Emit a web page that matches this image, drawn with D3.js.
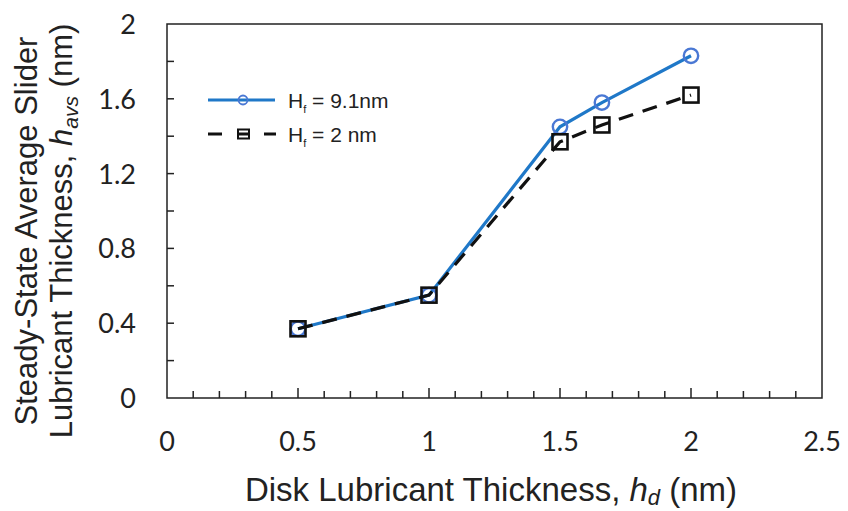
<!DOCTYPE html>
<html>
<head>
<meta charset="utf-8">
<script src="https://cdn.jsdelivr.net/npm/d3@7"></script>
<style>
  body { margin: 0; background: #fff; }
  svg text { fill: #222; }
</style>
</head>
<body>
<svg id="chart" width="848" height="511"></svg>
<script>
// === DATA ===
const diskThickness = [0.5, 1, 1.5, 1.66, 2];
const sliderThick91 = [0.37, 0.55, 1.45, 1.58, 1.83];
const sliderThick2 = [0.37, 0.55, 1.37, 1.46, 1.62];
const xTickLabels = [0, 0.5, 1, 1.5, 2, 2.5];
const yTickLabels = [0, 0.4, 0.8, 1.2, 1.6, 2];

// === LAYOUT ===
const plot = { left: 167, right: 822, top: 24, bottom: 398 };
const svg = d3.select('#chart');

const x = d3.scaleLinear().domain([0, 2.5]).range([plot.left, plot.right]);
const y = d3.scaleLinear().domain([0, 2]).range([plot.bottom, plot.top]);

const tickFont = 'Lato, "Open Sans", sans-serif';
const titleFont = '"Liberation Sans", Arial, sans-serif';

// frame
svg.append('rect')
    .attr('x', plot.left).attr('y', plot.top)
    .attr('width', plot.right - plot.left).attr('height', plot.bottom - plot.top)
    .attr('fill', 'none').attr('stroke', '#222').attr('stroke-width', 1.5);

// inner ticks on x (every 0.1, taller on 0.5)
const xMinor = d3.range(1, 25).map(i => i / 10);
svg.append('g').selectAll('line')
    .data(xMinor)
    .join('line')
    .attr('x1', d => x(d)).attr('x2', d => x(d))
    .attr('y1', plot.bottom)
    .attr('y2', (d, i) => plot.bottom - ((i + 1) % 5 === 0 ? 10 : 7))
    .attr('stroke', '#222').attr('stroke-width', 1.5);

// inner ticks on y (every 0.2)
const yMinor = d3.range(1, 10).map(i => i / 5);
svg.append('g').selectAll('line')
    .data(yMinor)
    .join('line')
    .attr('x1', plot.left).attr('x2', plot.left + 7)
    .attr('y1', d => y(d)).attr('y2', d => y(d))
    .attr('stroke', '#222').attr('stroke-width', 1.5);

// tick labels
svg.append('g').selectAll('text')
    .data(xTickLabels)
    .join('text')
    .attr('x', d => x(d))
    .attr('y', 451)
    .attr('text-anchor', 'middle')
    .style('font-family', tickFont).style('font-size', '27px')
    .text(d => d);

svg.append('g').selectAll('text')
    .data(yTickLabels)
    .join('text')
    .attr('x', 136)
    .attr('y', d => y(d) + 10)
    .attr('text-anchor', 'end')
    .style('font-family', tickFont).style('font-size', '27px')
    .text(d => d);

// axis titles
const xTitle = svg.append('text')
    .attr('x', 491).attr('y', 501)
    .attr('text-anchor', 'middle')
    .style('font-family', titleFont).style('font-size', '33px');
xTitle.append('tspan').text('Disk Lubricant Thickness, ');
xTitle.append('tspan').style('font-style', 'italic').text('h');
xTitle.append('tspan').style('font-style', 'italic').style('font-size', '22px').attr('dy', 4).text('d');
xTitle.append('tspan').attr('dy', -4).text(' (nm)');

const yTitle = svg.append('g').attr('transform', 'translate(0,231) rotate(-90)');
yTitle.append('text')
    .attr('x', 0).attr('y', 37)
    .attr('text-anchor', 'middle')
    .style('font-family', titleFont).style('font-size', '31px')
    .text('Steady-State Average Slider');
const yt2 = yTitle.append('text')
    .attr('x', 0).attr('y', 72)
    .attr('text-anchor', 'middle')
    .style('font-family', titleFont).style('font-size', '31px');
yt2.append('tspan').text('Lubricant Thickness, ');
yt2.append('tspan').style('font-style', 'italic').text('h');
yt2.append('tspan').style('font-style', 'italic').style('font-size', '21px').attr('dy', 6).text('avs');
yt2.append('tspan').attr('dy', -6).text(' (nm)');

// === SERIES ===
const line = d3.line().x(d => x(d[0])).y(d => y(d[1]));
const pts91 = diskThickness.map((d, i) => [d, sliderThick91[i]]);
const pts2 = diskThickness.map((d, i) => [d, sliderThick2[i]]);

svg.append('path').datum(pts91)
    .attr('d', line)
    .attr('fill', 'none').attr('stroke', '#1f78c8').attr('stroke-width', 3.2);

svg.append('g').selectAll('circle')
    .data(pts91)
    .join('circle')
    .attr('cx', d => x(d[0])).attr('cy', d => y(d[1]))
    .attr('r', 7.2)
    .attr('fill', 'none').attr('stroke', '#4a78d4').attr('stroke-width', 2.4);

svg.append('path').datum(pts2)
    .attr('d', line)
    .attr('fill', 'none').attr('stroke', '#111').attr('stroke-width', 3.2)
    .attr('stroke-dasharray', '15,10');

svg.append('g').selectAll('rect')
    .data(pts2)
    .join('rect')
    .attr('x', d => x(d[0]) - 7.5).attr('y', d => y(d[1]) - 7.5)
    .attr('width', 15).attr('height', 15)
    .attr('fill', 'none').attr('stroke', '#111').attr('stroke-width', 2.6);

// === LEGEND ===
const legend = svg.append('g');
legend.append('line')
    .attr('x1', 208).attr('x2', 275).attr('y1', 100).attr('y2', 100)
    .attr('stroke', '#1f78c8').attr('stroke-width', 3);
legend.append('circle')
    .attr('cx', 243).attr('cy', 100).attr('r', 4.5)
    .attr('fill', 'none').attr('stroke', '#4a78d4').attr('stroke-width', 1.8);
legend.append('line')
    .attr('x1', 208).attr('x2', 276).attr('y1', 134).attr('y2', 134)
    .attr('stroke', '#111').attr('stroke-width', 3)
    .attr('stroke-dasharray', '14,16,10,16,14');
legend.append('rect')
    .attr('x', 238).attr('y', 129.5).attr('width', 11).attr('height', 9)
    .attr('fill', 'none').attr('stroke', '#111').attr('stroke-width', 2);

const legendLabels = ['9.1nm', '2 nm'];
legend.selectAll('text.lbl')
    .data(legendLabels)
    .join('text')
    .attr('class', 'lbl')
    .attr('x', 288)
    .attr('y', (d, i) => 108 + i * 34)
    .style('font-family', titleFont).style('font-size', '21px')
    .each(function (d) {
        const t = d3.select(this);
        t.append('tspan').text('H');
        t.append('tspan').style('font-size', '11px').attr('dy', 5).text('f');
        t.append('tspan').attr('dy', -5).text(' = ' + d);
    });
</script>
</body>
</html>
